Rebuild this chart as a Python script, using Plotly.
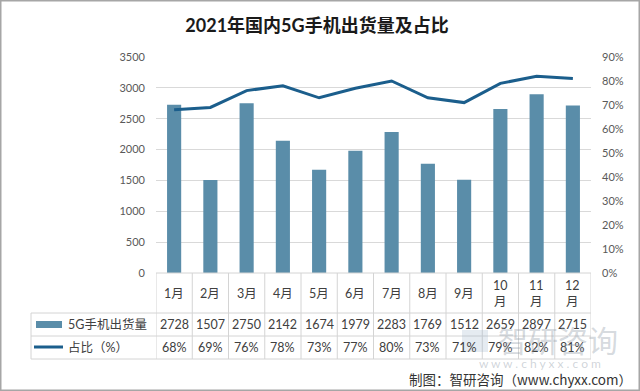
import plotly.graph_objects as go

title = "2021年国内5G手机出货量及占比"
months = ["1月", "2月", "3月", "4月", "5月", "6月", "7月", "8月", "9月", "10月", "11月", "12月"]
shipments = [2728, 1507, 2750, 2142, 1674, 1979, 2283, 1769, 1512, 2659, 2897, 2715]
share_pct = [68, 69, 76, 78, 73, 77, 80, 73, 71, 79, 82, 81]
bar_name = "5G手机出货量"
line_name = "占比（%）"
source = "制图：智研咨询（www.chyxx.com）"

W, H = 640, 391
L, R, T, B = 156, 49, 57, 118
pw, ph = W - L - R, H - T - B

def py(y):  # pixel y -> paper y
    return (H - B - y) / ph

def px(x):  # pixel x -> paper x
    return (x - L) / pw

BAR_C = "#5A8DA9"
LINE_C = "#1B5E8C"
GRID_C = "#D9D9D9"
TXT = "#404040"
FONT = "Lato, Noto Sans CJK SC, sans-serif"

fig = go.Figure()
fig.add_trace(go.Bar(x=months, y=shipments, name=bar_name, marker=dict(color=BAR_C, line=dict(width=0)),
                     yaxis="y"))
fig.add_trace(go.Scatter(x=months, y=[v / 100 for v in share_pct], name=line_name, mode="lines",
                         line=dict(color=LINE_C, width=3), yaxis="y2"))

shapes = []
annotations = []
tl = dict(color="#D4D4D4", width=1)

# table grid
row_y = [H - B, 313, 336, 359]
shapes.append(dict(type="line", xref="x", yref="paper", x0=-0.5, x1=len(months) - 0.5,
                   y0=py(row_y[0]), y1=py(row_y[0]), line=tl))
for y in row_y[1:]:
    shapes.append(dict(type="line", xref="paper", yref="paper", x0=px(31), x1=1,
                       y0=py(y), y1=py(y), line=tl))
for i in range(len(months) + 1):
    shapes.append(dict(type="line", xref="x", yref="paper", x0=i - 0.5, x1=i - 0.5,
                       y0=py(row_y[0]), y1=py(row_y[3]), line=tl))
shapes.append(dict(type="line", xref="paper", yref="paper", x0=px(31), x1=px(31),
                   y0=py(row_y[1]), y1=py(row_y[3]), line=tl))

# legend swatches
shapes.append(dict(type="rect", xref="paper", yref="paper", x0=px(36), x1=px(62),
                   y0=py(328), y1=py(321), fillcolor=BAR_C, line=dict(width=0)))
shapes.append(dict(type="line", xref="paper", yref="paper", x0=px(34), x1=px(63),
                   y0=py(347), y1=py(347), line=dict(color=LINE_C, width=3)))
annotations.append(dict(text=bar_name, xref="paper", yref="paper", x=px(66), y=py(324.5),
                        xanchor="left", yanchor="middle", showarrow=False,
                        font=dict(family=FONT, size=12.5, color=TXT)))
annotations.append(dict(text=line_name, xref="paper", yref="paper", x=px(66), y=py(347.5),
                        xanchor="left", yanchor="middle", showarrow=False,
                        font=dict(family=FONT, size=12.5, color=TXT)))

# table cells
for i, m in enumerate(months):
    lab = m if len(m) <= 2 else m[:-1] + "<br>" + m[-1]
    annotations.append(dict(text=lab, xref="x", yref="paper", x=i, y=py(293), xanchor="center",
                            yanchor="middle", showarrow=False,
                            font=dict(family=FONT, size=12.5, color=TXT)))
    annotations.append(dict(text=str(shipments[i]), xref="x", yref="paper", x=i, y=py(324.5),
                            xanchor="center", yanchor="middle", showarrow=False,
                            font=dict(family=FONT, size=12.5, color=TXT)))
    annotations.append(dict(text=f"{share_pct[i]}%", xref="x", yref="paper", x=i, y=py(347.5),
                            xanchor="center", yanchor="middle", showarrow=False,
                            font=dict(family=FONT, size=12.5, color=TXT)))

# watermark (logo mark + text)
shapes.append(dict(type="rect", xref="paper", yref="paper", x0=px(462), x1=px(488),
                   y0=py(352), y1=py(330), fillcolor="rgba(150,175,200,0.25)", line=dict(width=0)))
annotations.append(dict(text="智研咨询", xref="paper", yref="paper", x=px(558), y=py(339),
                        xanchor="center", yanchor="middle", showarrow=False,
                        font=dict(family="Noto Sans CJK SC", size=30, color="rgba(150,160,172,0.4)")))
annotations.append(dict(text="w w w . c h y x x . c o m", xref="paper", yref="paper", x=px(540), y=py(363),
                        xanchor="center", yanchor="middle", showarrow=False,
                        font=dict(family=FONT, size=12, color="rgba(150,160,172,0.45)")))

# source
annotations.append(dict(text=source, xref="paper", yref="paper", x=px(634), y=py(379),
                        xanchor="right", yanchor="middle", showarrow=False,
                        font=dict(family="Noto Sans CJK SC", size=13.5, color="#333333")))

# outer frame
shapes.append(dict(type="rect", xref="paper", yref="paper", x0=px(0.75), x1=px(639.25),
                   y0=py(390.25), y1=py(0.75), line=dict(color="#A6A6A6", width=1.5), layer="above"))

fig.update_layout(
    width=W, height=H,
    margin=dict(l=L, r=R, t=T, b=B),
    paper_bgcolor="white", plot_bgcolor="white",
    showlegend=False,
    bargap=0.61,
    title=dict(text=f"<b>{title}</b>", xref="container", yref="container",
               x=317 / W, xanchor="center", y=1 - 26 / H, yanchor="middle",
               font=dict(family=FONT, size=18, color="#1A1A1A")),
    xaxis=dict(type="category", range=[-0.5, len(months) - 0.5], showticklabels=False,
               showgrid=False, zeroline=False, showline=False, ticks=""),
    yaxis=dict(range=[0, 3500], dtick=500, showgrid=True, gridcolor=GRID_C, gridwidth=1,
               zeroline=False, showline=False, ticks="", ticklabelstandoff=10,
               tickfont=dict(family=FONT, size=11, color="#595959")),
    yaxis2=dict(range=[0, 0.9], dtick=0.1, tickformat=".0%", overlaying="y", side="right",
                showgrid=False, zeroline=False, showline=False, ticks="", ticklabelstandoff=10,
                tickfont=dict(family=FONT, size=11, color="#595959")),
    shapes=shapes, annotations=annotations,
)

fig.write_html("out.html", config={"displayModeBar": False},
               post_script="document.body.style.margin='0';document.body.style.overflow='hidden';")
